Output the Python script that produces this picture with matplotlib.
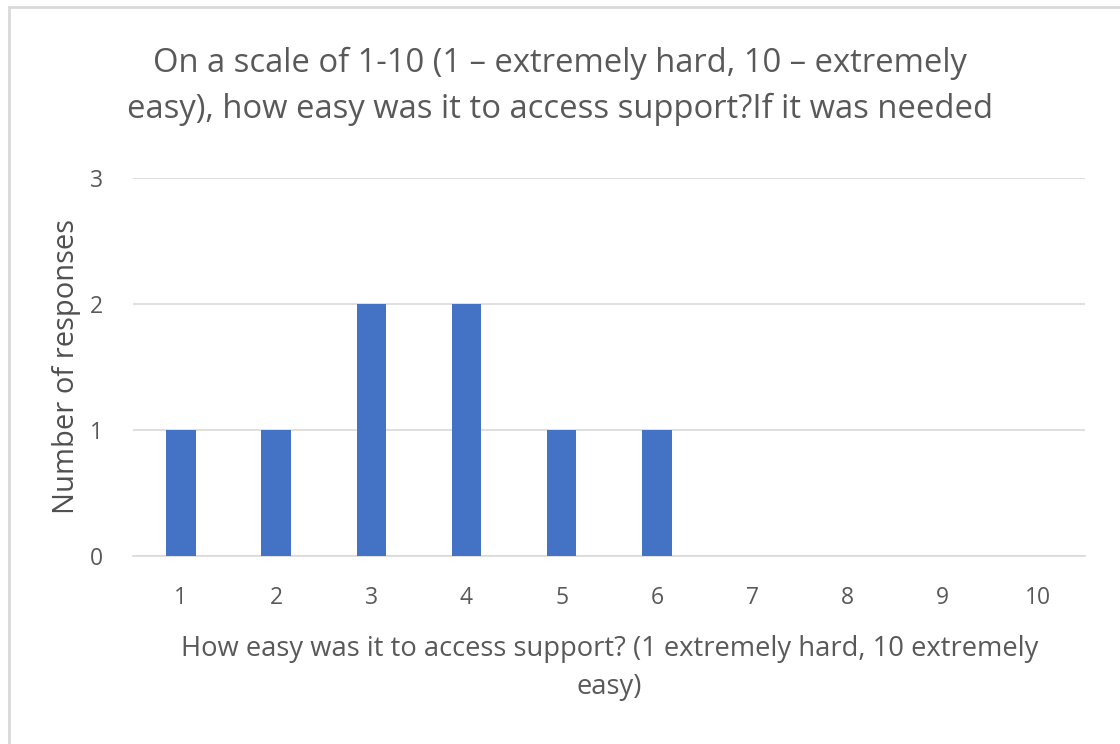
import matplotlib.pyplot as plt
from matplotlib.patches import Rectangle

# Data
scores = [1, 2, 3, 4, 5, 6, 7, 8, 9, 10]
responses = [1, 1, 2, 2, 1, 1, 0, 0, 0, 0]
y_ticks = [0, 1, 2, 3]

title = "On a scale of 1-10 (1 \u2013 extremely hard, 10 \u2013 extremely\neasy), how easy was it to access support?If it was needed"
x_label = "How easy was it to access support? (1 extremely hard, 10 extremely\neasy)"
y_label = "Number of responses"

plt.rcParams['font.family'] = ['Open Sans', 'DejaVu Sans']
text_col = "#595959"

fig = plt.figure(figsize=(11.2, 7.44), dpi=100)
ax = fig.add_axes([0.119, 0.253, 0.850, 0.508])

ax.bar(scores, responses, width=0.31, color="#4472C4", zorder=3)

ax.set_xlim(0.5, 10.5)
ax.set_ylim(0, 3)
ax.set_xticks(scores)
ax.set_yticks(y_ticks)
ax.tick_params(axis="both", length=0, labelsize=16.5, colors=text_col)
ax.tick_params(axis="x", pad=22)
ax.tick_params(axis="y", pad=22)
ax.grid(axis="y", color="#D9D9D9", linewidth=1.2, zorder=0)
for s in ["top", "right", "left"]:
    ax.spines[s].set_visible(False)
ax.spines["bottom"].set_color("#D9D9D9")
ax.spines["bottom"].set_linewidth(1.2)

ax.set_ylabel(y_label, fontsize=21, color="#505050", labelpad=6)
ax.set_xlabel(x_label, fontsize=19.7, color=text_col, labelpad=18, linespacing=1.45)

fig.text(0.5, 0.884, title, ha="center", va="center", fontsize=23.6, color=text_col, linespacing=1.5)

# outer frame
fig.patches.append(Rectangle((0.008, -0.01), 1.1, 1.0, transform=fig.transFigure,
                             fill=False, edgecolor="#D9D9D9", linewidth=2))

fig.savefig("out.png", dpi=100)
